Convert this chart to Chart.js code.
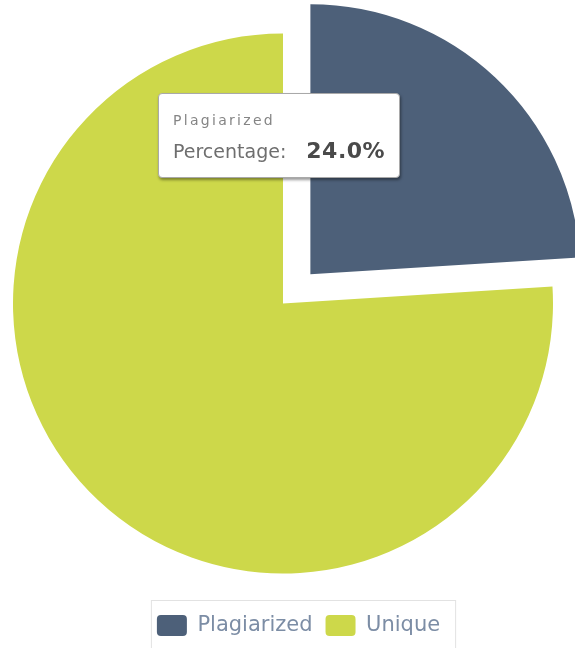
<!DOCTYPE html>
<html lang="en">
<head>
  <meta charset="utf-8">
  <title>Plagiarism check</title>
  <script src="https://cdn.jsdelivr.net/npm/chart.js@4.4.1/dist/chart.umd.min.js"></script>
  <style>
    body { margin: 0; background: #fff; }
    .chart-wrap { position: relative; width: 575px; height: 648px; }
    #pieTip {
      display: none;
      position: absolute;
      left: 158px; top: 93px;
      width: 242px; height: 85px;
      box-sizing: border-box;
      padding: 18px 0 0 14px;
      background: #fff;
      border: 1px solid #a9a9a9;
      border-radius: 4px;
      box-shadow: 1px 2px 3px rgba(0, 0, 0, 0.4);
      font-family: "DejaVu Sans", sans-serif;
      white-space: nowrap;
    }
    #pieTip .tip-title { font-size: 14px; line-height: 17px; color: #858585; letter-spacing: 2.3px; }
    #pieTip .tip-body { font-size: 19px; line-height: 23px; color: #6e6e6e; margin-top: 10px; }
    #pieTip .tip-body b { color: #4a4a4a; font-size: 22px; margin-left: 20px; letter-spacing: 0.5px; }
  </style>
</head>
<body>
<div class="chart-wrap">
  <canvas id="pieChart"></canvas>
  <div id="pieTip"></div>
</div>

<script>
var labels = ['Plagiarized', 'Unique'];
var percentages = [24.0, 76.0];

function showTip(context) {
  var tip = document.getElementById('pieTip');
  var points = context.tooltip.dataPoints || [];
  if (!points.length) {
    tip.style.display = 'none';
    return;
  }
  var i = points[0].dataIndex;
  tip.innerHTML = '<div class="tip-title">' + labels[i] + '</div>' +
    '<div class="tip-body">Percentage:<b>' + percentages[i].toFixed(1) + '%</b></div>';
  tip.style.display = 'block';
}

// light frame round the legend, like the original widget
var legendFrame = {
  id: 'legendFrame',
  afterDraw: function(chart) {
    var hb = chart.legend.legendHitBoxes;
    if (!hb || !hb.length) return;
    var last = hb[hb.length - 1];
    var ctx = chart.ctx;
    var left = hb[0].left - 6;
    var right = last.left + last.width + 15;
    var top = hb[0].top - 15;
    ctx.save();
    ctx.strokeStyle = '#e2e2e2';
    ctx.lineWidth = 1;
    ctx.strokeRect(left + 0.5, top + 0.5, right - left, chart.height - top + 5);
    ctx.restore();
  }
};

var ctx = document.getElementById('pieChart').getContext('2d');
var chart = new Chart(ctx, {
  type: 'pie',
  data: {
    labels: labels,
    datasets: [{
      label: 'Percentage',
      data: percentages,
      backgroundColor: ['#4d6079', '#cdd84a'],
      borderWidth: 0,
      offset: [160, 0],
      hoverOffset: 0
    }]
  },
  options: {
    responsive: true,
    maintainAspectRatio: false,
    animation: false,
    events: [],
    radius: 270,
    layout: { padding: { left: 22, right: 0, top: 5, bottom: 2 } },
    plugins: {
      // invisible spacer on the right so the pie sits left of the legend centre
      subtitle: {
        display: true,
        position: 'right',
        fullSize: false,
        text: '',
        font: { size: 1, lineHeight: 1 },
        padding: { top: 30, bottom: 0 }
      },
      legend: {
        position: 'bottom',
        labels: {
          color: '#7c8da5',
          font: { family: 'DejaVu Sans', size: 21 },
          boxWidth: 30,
          boxHeight: 21,
          useBorderRadius: true,
          borderRadius: 4,
          padding: 13
        }
      },
      tooltip: {
        enabled: false,
        animation: false,
        external: showTip
      }
    }
  },
  plugins: [legendFrame]
});

chart.tooltip.setActiveElements([{ datasetIndex: 0, index: 0 }], { x: 300, y: 150 });
chart.update();
</script>
</body>
</html>
